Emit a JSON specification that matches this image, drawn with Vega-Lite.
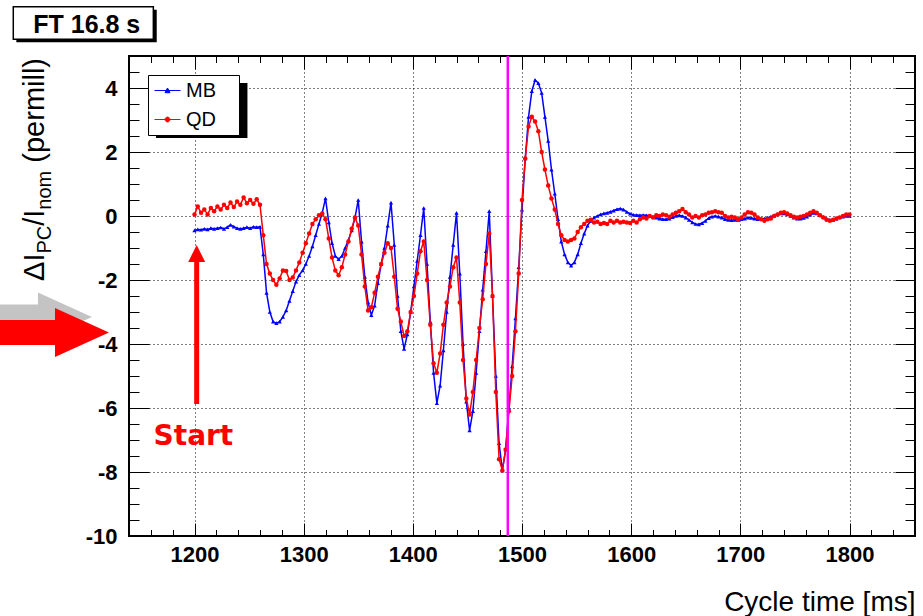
{
"$schema": "https://vega.github.io/schema/vega-lite/v6.json",
"width": 786, "height": 480,
"autosize": {"type": "none"},
"padding": {"left": 129, "top": 56, "right": 8, "bottom": 80},
"background": "white",
"data": {"values": [
{"t":1200,"MB":-0.45,"QD":0.05},{"t":1203,"MB":-0.42,"QD":0.3},{"t":1206,"MB":-0.43,"QD":0.1},{"t":1209,"MB":-0.40,"QD":0.2},{"t":1212,"MB":-0.42,"QD":0.05},{"t":1215,"MB":-0.38,"QD":0.25},{"t":1218,"MB":-0.40,"QD":0.15},{"t":1221,"MB":-0.38,"QD":0.3},{"t":1224,"MB":-0.36,"QD":0.2},{"t":1227,"MB":-0.40,"QD":0.35},
{"t":1230,"MB":-0.35,"QD":0.25},{"t":1233,"MB":-0.28,"QD":0.42},{"t":1236,"MB":-0.33,"QD":0.28},{"t":1239,"MB":-0.38,"QD":0.45},{"t":1242,"MB":-0.40,"QD":0.35},{"t":1245,"MB":-0.38,"QD":0.58},{"t":1248,"MB":-0.35,"QD":0.4},{"t":1251,"MB":-0.38,"QD":0.5},{"t":1254,"MB":-0.34,"QD":0.38},{"t":1257,"MB":-0.35,"QD":0.52},
{"t":1260,"MB":-0.34,"QD":0.35},{"t":1263,"MB":-1.2,"QD":-0.6},{"t":1266,"MB":-2.4,"QD":-1.5},{"t":1269,"MB":-3.0,"QD":-1.8},{"t":1272,"MB":-3.3,"QD":-2.0},{"t":1275,"MB":-3.35,"QD":-2.15},{"t":1278,"MB":-3.3,"QD":-1.95},{"t":1281,"MB":-3.15,"QD":-1.7},{"t":1284,"MB":-2.95,"QD":-1.72},{"t":1287,"MB":-2.65,"QD":-2.0},
{"t":1290,"MB":-2.35,"QD":-1.92},{"t":1293,"MB":-2.05,"QD":-1.7},{"t":1296,"MB":-1.85,"QD":-1.45},{"t":1299,"MB":-1.7,"QD":-1.15},{"t":1302,"MB":-1.5,"QD":-0.85},{"t":1305,"MB":-1.25,"QD":-0.55},{"t":1308,"MB":-0.95,"QD":-0.25},{"t":1311,"MB":-0.6,"QD":-0.1},{"t":1314,"MB":-0.25,"QD":0.02},{"t":1317,"MB":0.1,"QD":0.08},
{"t":1320,"MB":0.55,"QD":-0.1},{"t":1323,"MB":-0.2,"QD":-0.7},{"t":1326,"MB":-0.85,"QD":-1.3},{"t":1329,"MB":-1.25,"QD":-1.7},{"t":1332,"MB":-1.35,"QD":-1.85},{"t":1335,"MB":-1.25,"QD":-1.6},{"t":1338,"MB":-1.0,"QD":-1.2},{"t":1341,"MB":-0.75,"QD":-0.8},{"t":1344,"MB":-0.45,"QD":-0.4},{"t":1347,"MB":-0.05,"QD":-0.05},
{"t":1350,"MB":0.5,"QD":-0.3},{"t":1353,"MB":-0.8,"QD":-1.2},{"t":1356,"MB":-1.9,"QD":-2.2},{"t":1359,"MB":-2.7,"QD":-2.95},{"t":1362,"MB":-3.1,"QD":-2.85},{"t":1365,"MB":-2.8,"QD":-2.4},{"t":1368,"MB":-2.1,"QD":-1.9},{"t":1371,"MB":-1.5,"QD":-1.5},{"t":1374,"MB":-1.0,"QD":-1.15},{"t":1377,"MB":-0.3,"QD":-0.85},
{"t":1380,"MB":0.42,"QD":-1.0},{"t":1383,"MB":-0.9,"QD":-1.9},{"t":1386,"MB":-2.5,"QD":-2.9},{"t":1389,"MB":-3.6,"QD":-3.3},{"t":1392,"MB":-4.15,"QD":-3.75},{"t":1395,"MB":-3.7,"QD":-3.6},{"t":1398,"MB":-3.0,"QD":-3.0},{"t":1401,"MB":-2.2,"QD":-2.5},{"t":1404,"MB":-1.4,"QD":-1.8},{"t":1407,"MB":-0.6,"QD":-1.1},
{"t":1410,"MB":0.25,"QD":-0.8},{"t":1413,"MB":-1.5,"QD":-2.0},{"t":1416,"MB":-3.3,"QD":-3.4},{"t":1419,"MB":-4.9,"QD":-4.6},{"t":1422,"MB":-5.85,"QD":-4.9},{"t":1425,"MB":-5.3,"QD":-4.3},{"t":1428,"MB":-4.2,"QD":-3.4},{"t":1431,"MB":-3.0,"QD":-2.7},{"t":1434,"MB":-1.9,"QD":-2.2},{"t":1437,"MB":-0.9,"QD":-1.6},
{"t":1440,"MB":0.1,"QD":-1.3},{"t":1443,"MB":-1.8,"QD":-2.7},{"t":1446,"MB":-4.0,"QD":-4.5},{"t":1449,"MB":-5.8,"QD":-5.7},{"t":1452,"MB":-6.7,"QD":-6.2},{"t":1455,"MB":-6.1,"QD":-5.5},{"t":1458,"MB":-4.9,"QD":-4.5},{"t":1461,"MB":-3.6,"QD":-3.5},{"t":1464,"MB":-2.3,"QD":-2.6},{"t":1467,"MB":-1.1,"QD":-1.5},
{"t":1470,"MB":0.15,"QD":-0.55},{"t":1473,"MB":-2.5,"QD":-2.5},{"t":1476,"MB":-5.0,"QD":-5.5},{"t":1479,"MB":-7.1,"QD":-7.6},{"t":1482,"MB":-7.95,"QD":-7.95},{"t":1485,"MB":-7.3,"QD":-7.3},{"t":1488,"MB":-6.0,"QD":-6.1},{"t":1491,"MB":-4.7,"QD":-5.0},{"t":1494,"MB":-3.2,"QD":-3.6},{"t":1497,"MB":-1.6,"QD":-1.8},
{"t":1500,"MB":0.2,"QD":0.5},{"t":1503,"MB":1.8,"QD":1.8},{"t":1506,"MB":3.1,"QD":2.8},{"t":1509,"MB":3.9,"QD":3.1},{"t":1512,"MB":4.25,"QD":2.95},{"t":1515,"MB":4.15,"QD":2.65},{"t":1518,"MB":3.85,"QD":2.0},{"t":1521,"MB":3.1,"QD":1.45},{"t":1524,"MB":2.35,"QD":0.95},{"t":1527,"MB":1.45,"QD":0.55},
{"t":1530,"MB":0.7,"QD":0.2},{"t":1533,"MB":-0.1,"QD":-0.25},{"t":1536,"MB":-0.8,"QD":-0.6},{"t":1539,"MB":-1.2,"QD":-0.75},{"t":1542,"MB":-1.45,"QD":-0.8},{"t":1545,"MB":-1.55,"QD":-0.75},{"t":1548,"MB":-1.45,"QD":-0.7},{"t":1551,"MB":-1.2,"QD":-0.5},{"t":1554,"MB":-0.85,"QD":-0.35},{"t":1557,"MB":-0.55,"QD":-0.25},
{"t":1560,"MB":-0.3,"QD":-0.15},{"t":1563,"MB":-0.15,"QD":-0.12},{"t":1566,"MB":-0.05,"QD":-0.2},{"t":1569,"MB":0.0,"QD":-0.18},{"t":1572,"MB":0.05,"QD":-0.25},{"t":1575,"MB":0.08,"QD":-0.22},{"t":1578,"MB":0.1,"QD":-0.25},{"t":1581,"MB":0.13,"QD":-0.15},{"t":1584,"MB":0.17,"QD":-0.2},{"t":1587,"MB":0.21,"QD":-0.15},
{"t":1590,"MB":0.23,"QD":-0.2},{"t":1593,"MB":0.2,"QD":-0.18},{"t":1596,"MB":0.13,"QD":-0.2},{"t":1599,"MB":0.07,"QD":-0.22},{"t":1602,"MB":0.04,"QD":-0.15},{"t":1605,"MB":0.03,"QD":-0.2},{"t":1608,"MB":0.02,"QD":-0.1},{"t":1611,"MB":0.03,"QD":-0.05},{"t":1614,"MB":0.02,"QD":-0.08},{"t":1617,"MB":0.0,"QD":0.0},
{"t":1620,"MB":-0.02,"QD":-0.05},{"t":1623,"MB":-0.05,"QD":0.02},{"t":1626,"MB":-0.08,"QD":0.0},{"t":1629,"MB":-0.1,"QD":0.05},{"t":1632,"MB":-0.1,"QD":0.02},{"t":1635,"MB":-0.08,"QD":-0.02},{"t":1638,"MB":-0.04,"QD":0.05},{"t":1641,"MB":0.0,"QD":0.1},{"t":1644,"MB":0.02,"QD":0.15},{"t":1647,"MB":0.0,"QD":0.22},
{"t":1650,"MB":-0.05,"QD":0.12},{"t":1653,"MB":-0.12,"QD":0.05},{"t":1656,"MB":-0.2,"QD":-0.05},{"t":1659,"MB":-0.25,"QD":0.0},{"t":1662,"MB":-0.26,"QD":-0.05},{"t":1665,"MB":-0.22,"QD":0.02},{"t":1668,"MB":-0.15,"QD":0.05},{"t":1671,"MB":-0.07,"QD":0.1},{"t":1674,"MB":-0.02,"QD":0.12},{"t":1677,"MB":0.0,"QD":0.15},
{"t":1680,"MB":-0.02,"QD":0.12},{"t":1683,"MB":-0.05,"QD":0.1},{"t":1686,"MB":-0.1,"QD":0.0},{"t":1689,"MB":-0.12,"QD":-0.05},{"t":1692,"MB":-0.13,"QD":-0.02},{"t":1695,"MB":-0.12,"QD":-0.05},{"t":1698,"MB":-0.12,"QD":-0.1},{"t":1701,"MB":-0.1,"QD":-0.05},{"t":1704,"MB":-0.08,"QD":0.05},{"t":1707,"MB":-0.05,"QD":0.12},
{"t":1710,"MB":-0.06,"QD":0.1},{"t":1713,"MB":-0.08,"QD":0.05},{"t":1716,"MB":-0.1,"QD":-0.05},{"t":1719,"MB":-0.1,"QD":-0.1},{"t":1722,"MB":-0.08,"QD":-0.15},{"t":1725,"MB":-0.05,"QD":-0.1},{"t":1728,"MB":-0.02,"QD":-0.08},{"t":1731,"MB":0.02,"QD":0.0},{"t":1734,"MB":0.06,"QD":0.05},{"t":1737,"MB":0.08,"QD":0.1},
{"t":1740,"MB":0.08,"QD":0.12},{"t":1743,"MB":0.05,"QD":0.08},{"t":1746,"MB":0.0,"QD":0.02},{"t":1749,"MB":-0.05,"QD":-0.02},{"t":1752,"MB":-0.08,"QD":-0.05},{"t":1755,"MB":-0.08,"QD":-0.02},{"t":1758,"MB":-0.06,"QD":0.0},{"t":1761,"MB":-0.02,"QD":0.05},{"t":1764,"MB":0.04,"QD":0.1},{"t":1767,"MB":0.1,"QD":0.15},
{"t":1770,"MB":0.08,"QD":0.1},{"t":1773,"MB":0.03,"QD":0.02},{"t":1776,"MB":-0.03,"QD":-0.05},{"t":1779,"MB":-0.08,"QD":-0.12},{"t":1782,"MB":-0.12,"QD":-0.15},{"t":1785,"MB":-0.12,"QD":-0.12},{"t":1788,"MB":-0.08,"QD":-0.08},{"t":1791,"MB":-0.04,"QD":-0.05},{"t":1794,"MB":-0.02,"QD":0.0},{"t":1797,"MB":0.0,"QD":0.05},
{"t":1800,"MB":0.0,"QD":0.05}
]},
"layer": [
{
 "mark": {"type": "line", "strokeWidth": 1.5, "point": {"shape": "triangle-up", "size": 18, "filled": true, "opacity": 1}},
 "encoding": {
  "x": {"field": "t", "type": "quantitative", "scale": {"domain": [1140, 1860], "nice": false, "zero": false},
   "axis": {"orient": "bottom", "values": [1140,1160,1180,1200,1220,1240,1260,1280,1300,1320,1340,1360,1380,1400,1420,1440,1460,1480,1500,1520,1540,1560,1580,1600,1620,1640,1660,1680,1700,1720,1740,1760,1780,1800,1820,1840,1860],
    "domain": false, "ticks": true, "tickColor": "black", "tickWidth": 1,
    "tickSize": {"condition": {"test": "datum.value % 100 === 0", "value": -13}, "value": -6.5},
    "grid": true, "gridColor": "black", "gridDash": [1, 3], "gridWidth": 1,
    "gridOpacity": {"condition": {"test": "datum.value % 100 === 0", "value": 1}, "value": 0},
    "labelExpr": "datum.value % 100 === 0 ? '' + datum.value : ''",
    "labelFont": "Liberation Sans", "labelFontWeight": "bold", "labelFontSize": 22, "labelColor": "black", "labelPadding": 21, "labelOverlap": false, "labelFlush": false,
    "title": "Cycle time [ms]", "titleFont": "Liberation Sans", "titleFontWeight": "normal", "titleFontSize": 28, "titleColor": "black",
    "titleX": 786, "titleY": 74, "titleAlign": "right", "titleBaseline": "alphabetic", "titleAnchor": "end"}},
  "y": {"field": "MB", "type": "quantitative", "scale": {"domain": [-10, 5], "nice": false, "zero": false},
   "axis": {"orient": "left", "values": [-10,-9.5,-9,-8.5,-8,-7.5,-7,-6.5,-6,-5.5,-5,-4.5,-4,-3.5,-3,-2.5,-2,-1.5,-1,-0.5,0,0.5,1,1.5,2,2.5,3,3.5,4,4.5,5],
    "domain": false, "ticks": true, "tickColor": "black", "tickWidth": 1,
    "tickSize": {"condition": {"test": "datum.value % 2 === 0", "value": -20}, "value": -10},
    "grid": true, "gridColor": "black", "gridDash": [1, 3], "gridWidth": 1,
    "gridOpacity": {"condition": {"test": "datum.value % 2 === 0", "value": 1}, "value": 0},
    "labelExpr": "datum.value % 2 === 0 ? '' + datum.value : ''",
    "labelFont": "Liberation Sans", "labelFontWeight": "bold", "labelFontSize": 22, "labelColor": "black", "labelPadding": 32, "labelOverlap": false, "labelFlush": false,
    "title": null}},
  "color": {"datum": "MB", "type": "nominal", "scale": {"domain": ["MB", "QD"], "range": ["#0000ff", "#ff0000"]},
   "legend": {"title": "\u00a0", "titleOrient": "right", "titlePadding": 18, "titleFontSize": 20, "orient": "none", "legendX": 19, "legendY": 19, "padding": 5, "rowPadding": 8,
    "strokeColor": "black", "fillColor": "white", "labelFont": "Liberation Sans", "labelFontSize": 20, "labelColor": "black", "labelOffset": 8,
    "symbolType": "stroke", "symbolSize": 400, "symbolOffset": 4, "symbolStrokeWidth": 1,
    "encode": {
     "symbols": {"update": {
      "shape": {"signal": "datum.value === 'MB' ? 'M-1.3,0H1.3M-0.25,0.22L0,-0.25L0.25,0.22Z' : 'M-1.3,0H1.3M0.24,0A0.24,0.24,0,1,1,-0.24,0A0.24,0.24,0,1,1,0.24,0'"},
      "fill": {"signal": "datum.value === 'MB' ? '#0000ff' : '#ff0000'"},
      "stroke": {"signal": "datum.value === 'MB' ? '#0000ff' : '#ff0000'"},
      "strokeWidth": {"value": 1}}}}}}
 }
},
{
 "mark": {"type": "line", "strokeWidth": 1.5, "point": {"shape": "circle", "size": 20, "filled": true, "opacity": 1}},
 "encoding": {
  "x": {"field": "t", "type": "quantitative", "scale": {"domain": [1140, 1860], "nice": false, "zero": false},
   "axis": {"orient": "top", "values": [1140,1160,1180,1200,1220,1240,1260,1280,1300,1320,1340,1360,1380,1400,1420,1440,1460,1480,1500,1520,1540,1560,1580,1600,1620,1640,1660,1680,1700,1720,1740,1760,1780,1800,1820,1840,1860],
    "domain": false, "labels": false, "grid": false, "title": null, "ticks": true, "tickColor": "black", "tickWidth": 1,
    "tickSize": {"condition": {"test": "datum.value % 100 === 0", "value": -13}, "value": -6.5}}},
  "y": {"field": "QD", "type": "quantitative", "scale": {"domain": [-10, 5], "nice": false, "zero": false},
   "axis": {"orient": "right", "values": [-10,-9.5,-9,-8.5,-8,-7.5,-7,-6.5,-6,-5.5,-5,-4.5,-4,-3.5,-3,-2.5,-2,-1.5,-1,-0.5,0,0.5,1,1.5,2,2.5,3,3.5,4,4.5,5],
    "domain": false, "labels": false, "grid": false, "title": null, "ticks": true, "tickColor": "black", "tickWidth": 1,
    "tickSize": {"condition": {"test": "datum.value % 2 === 0", "value": -20}, "value": -10}}},
  "color": {"datum": "QD", "type": "nominal", "scale": {"domain": ["MB", "QD"], "range": ["#0000ff", "#ff0000"]},
   "legend": {"title": "\u00a0", "titleOrient": "right", "titlePadding": 18, "titleFontSize": 20, "orient": "none", "legendX": 19, "legendY": 19, "padding": 5, "rowPadding": 8,
    "strokeColor": "black", "fillColor": "white", "labelFont": "Liberation Sans", "labelFontSize": 20, "labelColor": "black", "labelOffset": 8,
    "symbolType": "stroke", "symbolSize": 400, "symbolOffset": 4, "symbolStrokeWidth": 1,
    "encode": {
     "symbols": {"update": {
      "shape": {"signal": "datum.value === 'MB' ? 'M-1.3,0H1.3M-0.25,0.22L0,-0.25L0.25,0.22Z' : 'M-1.3,0H1.3M0.24,0A0.24,0.24,0,1,1,-0.24,0A0.24,0.24,0,1,1,0.24,0'"},
      "fill": {"signal": "datum.value === 'MB' ? '#0000ff' : '#ff0000'"},
      "stroke": {"signal": "datum.value === 'MB' ? '#0000ff' : '#ff0000'"},
      "strokeWidth": {"value": 1}}}}}}
 }
},
{
 "data": {"values": [{}]},
 "mark": {"type": "rule", "color": "#ff00ff", "strokeWidth": 2.5},
 "encoding": {"x": {"datum": 1487, "type": "quantitative", "scale": {"domain": [1140, 1860], "nice": false, "zero": false}, "axis": null}}
},
{
 "data": {"values": [{}]},
 "mark": {"type": "rule", "color": "#ff0000", "strokeWidth": 5},
 "encoding": {
  "x": {"datum": 1202, "type": "quantitative", "scale": {"domain": [1140, 1860], "nice": false, "zero": false}, "axis": null},
  "y": {"datum": -5.875, "type": "quantitative", "scale": {"domain": [-10, 5], "nice": false, "zero": false}, "axis": null},
  "y2": {"datum": -1.4375}}
},
{
 "data": {"values": [{}]},
 "mark": {"type": "point", "shape": "M0,-1L1,1L-1,1Z", "size": 289, "filled": true, "color": "#ff0000", "opacity": 1},
 "encoding": {
  "x": {"datum": 1202, "type": "quantitative", "scale": {"domain": [1140, 1860], "nice": false, "zero": false}, "axis": null},
  "y": {"datum": -1.172, "type": "quantitative", "scale": {"domain": [-10, 5], "nice": false, "zero": false}, "axis": null}}
},
{
 "data": {"values": [{}]},
 "mark": {"type": "text", "text": "Start", "font": "DejaVu Sans", "fontWeight": "bold", "fontSize": 28, "color": "#ff0000", "align": "center", "baseline": "alphabetic"},
 "encoding": {
  "x": {"datum": 1199, "type": "quantitative", "scale": {"domain": [1140, 1860], "nice": false, "zero": false}, "axis": null},
  "y": {"datum": -7.156, "type": "quantitative", "scale": {"domain": [-10, 5], "nice": false, "zero": false}, "axis": null}}
},
{
 "data": {"values": [{}]},
 "mark": {"type": "rect", "color": "black"},
 "encoding": {
  "x": {"datum": 1164.7, "type": "quantitative", "scale": {"domain": [1140, 1860], "nice": false, "zero": false}, "axis": null},
  "x2": {"datum": 1248.5},
  "y": {"datum": 4.156, "type": "quantitative", "scale": {"domain": [-10, 5], "nice": false, "zero": false}, "axis": null},
  "y2": {"datum": 2.4375}}
},
{
 "data": {"values": [{}]},
 "mark": {"type": "rect", "color": "black"},
 "encoding": {
  "x": {"datum": 1036.8, "type": "quantitative", "scale": {"domain": [1140, 1860], "nice": false, "zero": false}, "axis": null},
  "x2": {"datum": 1165.4},
  "y": {"datum": 6.447, "type": "quantitative", "scale": {"domain": [-10, 5], "nice": false, "zero": false}, "axis": null},
  "y2": {"datum": 5.428}}
},
{
 "data": {"values": [{}]},
 "mark": {"type": "rect", "fill": "white", "stroke": "black", "strokeWidth": 1.5},
 "encoding": {
  "x": {"datum": 1034, "type": "quantitative", "scale": {"domain": [1140, 1860], "nice": false, "zero": false}, "axis": null},
  "x2": {"datum": 1162.3},
  "y": {"datum": 6.541, "type": "quantitative", "scale": {"domain": [-10, 5], "nice": false, "zero": false}, "axis": null},
  "y2": {"datum": 5.522}}
},
{
 "data": {"values": [{}]},
 "mark": {"type": "text", "text": "FT 16.8 s", "font": "Liberation Sans", "fontWeight": "bold", "fontSize": 25, "color": "black", "align": "center", "baseline": "alphabetic"},
 "encoding": {
  "x": {"datum": 1101.3, "type": "quantitative", "scale": {"domain": [1140, 1860], "nice": false, "zero": false}, "axis": null},
  "y": {"datum": 5.709, "type": "quantitative", "scale": {"domain": [-10, 5], "nice": false, "zero": false}, "axis": null}}
},
{
 "data": {"values": [{}]},
 "mark": {"type": "point", "shape": "M-1,-0.208L0.1,-0.208L0.1,-0.408L1,0L0.1,0.408L0.1,0.208L-1,0.208Z", "size": 14400, "filled": true, "color": "#c4c4c4", "opacity": 1},
 "encoding": {
  "x": {"datum": 1051.1, "type": "quantitative", "scale": {"domain": [1140, 1860], "nice": false, "zero": false}, "axis": null},
  "y": {"datum": -3.156, "type": "quantitative", "scale": {"domain": [-10, 5], "nice": false, "zero": false}, "axis": null}}
},
{
 "data": {"values": [{}]},
 "mark": {"type": "point", "shape": "M-1,-0.208L0.1,-0.208L0.1,-0.408L1,0L0.1,0.408L0.1,0.208L-1,0.208Z", "size": 14400, "filled": true, "color": "#ff0000", "opacity": 1},
 "encoding": {
  "x": {"datum": 1066.7, "type": "quantitative", "scale": {"domain": [1140, 1860], "nice": false, "zero": false}, "axis": null},
  "y": {"datum": -3.641, "type": "quantitative", "scale": {"domain": [-10, 5], "nice": false, "zero": false}, "axis": null}}
},
{
 "data": {"values": [{}]},
 "mark": {"type": "text", "text": "ΔI", "font": "Liberation Sans", "fontSize": 29, "color": "black", "angle": 270, "align": "left", "baseline": "alphabetic"},
 "encoding": {
  "x": {"datum": 1062.1, "type": "quantitative", "scale": {"domain": [1140, 1860], "nice": false, "zero": false}, "axis": null},
  "y": {"datum": -2.031, "type": "quantitative", "scale": {"domain": [-10, 5], "nice": false, "zero": false}, "axis": null}}
},
{
 "data": {"values": [{}]},
 "mark": {"type": "text", "text": "PC", "font": "Liberation Sans", "fontSize": 20, "color": "black", "angle": 270, "align": "left", "baseline": "alphabetic"},
 "encoding": {
  "x": {"datum": 1068.5, "type": "quantitative", "scale": {"domain": [1140, 1860], "nice": false, "zero": false}, "axis": null},
  "y": {"datum": -1.175, "type": "quantitative", "scale": {"domain": [-10, 5], "nice": false, "zero": false}, "axis": null}}
},
{
 "data": {"values": [{}]},
 "mark": {"type": "text", "text": "/I", "font": "Liberation Sans", "fontSize": 29, "color": "black", "angle": 270, "align": "left", "baseline": "alphabetic"},
 "encoding": {
  "x": {"datum": 1062.1, "type": "quantitative", "scale": {"domain": [1140, 1860], "nice": false, "zero": false}, "axis": null},
  "y": {"datum": -0.306, "type": "quantitative", "scale": {"domain": [-10, 5], "nice": false, "zero": false}, "axis": null}}
},
{
 "data": {"values": [{}]},
 "mark": {"type": "text", "text": "nom", "font": "Liberation Sans", "fontSize": 20, "color": "black", "angle": 270, "align": "left", "baseline": "alphabetic"},
 "encoding": {
  "x": {"datum": 1068.5, "type": "quantitative", "scale": {"domain": [1140, 1860], "nice": false, "zero": false}, "axis": null},
  "y": {"datum": 0.197, "type": "quantitative", "scale": {"domain": [-10, 5], "nice": false, "zero": false}, "axis": null}}
},
{
 "data": {"values": [{}]},
 "mark": {"type": "text", "text": "(permill)", "font": "Liberation Sans", "fontSize": 29, "color": "black", "angle": 270, "align": "left", "baseline": "alphabetic"},
 "encoding": {
  "x": {"datum": 1062.1, "type": "quantitative", "scale": {"domain": [1140, 1860], "nice": false, "zero": false}, "axis": null},
  "y": {"datum": 1.666, "type": "quantitative", "scale": {"domain": [-10, 5], "nice": false, "zero": false}, "axis": null}}
}
],
"resolve": {"axis": {"x": "independent", "y": "independent"}},
"config": {
 "view": {"stroke": "black", "strokeWidth": 2},
 "font": "Liberation Sans"
}
}
